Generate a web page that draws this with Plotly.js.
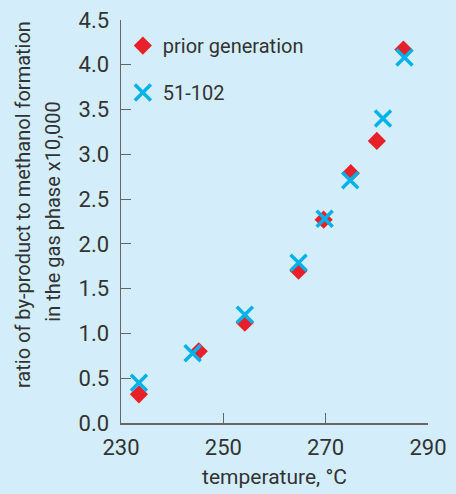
<!DOCTYPE html>
<html><head><meta charset="utf-8">
<script src="https://cdn.plot.ly/plotly-3.0.1.min.js"></script>
<style>html,body{margin:0;padding:0;background:#d3eefa;}</style>
</head><body>
<div id="chart" style="width:456px;height:494px;"></div>
<script>
const priorTemp = [233.5, 245.2, 254.2, 264.7, 269.6, 274.9, 280.0, 285.2];
const priorRatio = [0.32, 0.80, 1.12, 1.70, 2.27, 2.79, 3.15, 4.17];
const newTemp = [233.5, 244.0, 254.2, 264.7, 269.8, 274.8, 281.2, 285.4];
const newRatio = [0.45, 0.78, 1.21, 1.79, 2.28, 2.71, 3.40, 4.08];
const xTicks = [230, 250, 270, 290];
const yTicks = [0, 0.5, 1, 1.5, 2, 2.5, 3, 3.5, 4, 4.5];
const yTickText = ['0.0','0.5','1.0','1.5','2.0','2.5','3.0','3.5','4.0','4.5'];
const yTitleLines = ['ratio of by-product to methanol formation', 'in the gas phase x10,000'];

const font = "Roboto, Arial, sans-serif";
const traces = [
  {x: priorTemp, y: priorRatio, mode: 'markers', type: 'scatter', name: 'prior generation', legendgroup: 'a',
   marker: {symbol: 'diamond', size: 14, color: '#e8202a'}},
  {x: newTemp, y: newRatio, mode: 'markers', type: 'scatter', name: '51-102', legendgroup: 'b',
   marker: {symbol: 'x-thin', size: 16, color: '#00b2ea', line: {color: '#00b2ea', width: 3.5}}}
];
const titleFont = {size: 20, family: font, color: '#333'};
const layout = {
  width: 456, height: 494,
  paper_bgcolor: '#d3eefa', plot_bgcolor: '#d3eefa',
  margin: {l: 121, r: 28, t: 20, b: 71},
  font: {family: font, color: '#333333', size: 18},
  showlegend: true,
  legend: {x: 0.006, y: 0.985, xanchor: 'left', yanchor: 'top', bgcolor: 'rgba(0,0,0,0)',
           font: {size: 20, color: '#333333'}, traceorder: 'grouped', tracegroupgap: 18},
  xaxis: {range: [230, 290], tickvals: xTicks, ticks: 'inside', ticklen: 10, tickcolor: '#666',
          showline: true, linecolor: '#666', linewidth: 1.5, showgrid: false, zeroline: false,
          ticklabelstandoff: 4,
          tickfont: {size: 22, family: font, color: '#333'},
          title: {text: 'temperature, °C', font: {size: 21, family: font, color: '#333'}, standoff: 10}},
  yaxis: {range: [0, 4.5], tickvals: yTicks, ticktext: yTickText, ticks: 'inside', ticklen: 10, tickcolor: '#666',
          showline: true, linecolor: '#666', linewidth: 1.5, showgrid: false, zeroline: false,
          ticklabelstandoff: 6,
          tickfont: {size: 22, family: font, color: '#333'}},
  annotations: [
    {text: yTitleLines[0], xref: 'paper', yref: 'paper', x: -0.319, y: 0.541,
     xanchor: 'center', yanchor: 'middle', textangle: -90, showarrow: false, font: titleFont},
    {text: yTitleLines[1], xref: 'paper', yref: 'paper', x: -0.222, y: 0.524,
     xanchor: 'center', yanchor: 'middle', textangle: -90, showarrow: false, font: titleFont}
  ]
};
Plotly.newPlot('chart', traces, layout, {displayModeBar: false, staticPlot: true});
</script>
</body></html>
